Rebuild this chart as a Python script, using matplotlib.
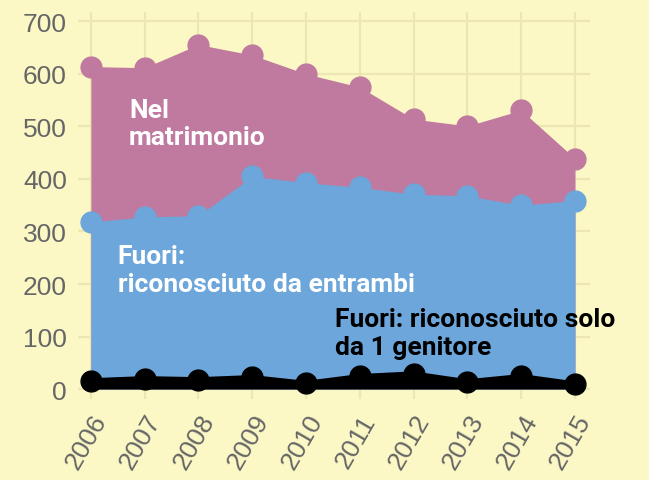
import matplotlib.pyplot as plt
import numpy as np

years = [2006, 2007, 2008, 2009, 2010, 2011, 2012, 2013, 2014, 2015]
nel_matrimonio = [614, 612, 656, 636, 600, 575, 514, 501, 531, 439]
fuori_entrambi = [318, 328, 330, 405, 393, 384, 371, 368, 350, 359]
fuori_uno = [16, 20, 18, 22, 11, 24, 29, 14, 24, 10]

bg = '#FBF8C6'
pink = '#C0799F'
blue = '#6CA6DA'
grid = '#EBE6B2'

fig = plt.figure(figsize=(6.49, 4.81), dpi=100, facecolor=bg)
ax = fig.add_axes([78/649, 1 - 400/481, (590-78)/649, (400-13)/481])
ax.set_facecolor(bg)

ax.fill_between(years, 0, nel_matrimonio, color=pink, lw=0, zorder=2)
ax.plot(years, nel_matrimonio, 'o', color=pink, ms=15, zorder=3, clip_on=False)
ax.fill_between(years, 0, fuori_entrambi, color=blue, lw=0, zorder=4)
ax.plot(years, fuori_entrambi, 'o', color=blue, ms=15, zorder=5, clip_on=False)
ax.fill_between(years, 0, fuori_uno, color='black', lw=0, zorder=6)
ax.plot(years, fuori_uno, '-o', color='black', lw=3.5, ms=15, zorder=7, clip_on=False)

lab = dict(family=['Roboto', 'DejaVu Sans'], weight='bold', fontsize=19,
           va='top', ha='left', linespacing=1.2, zorder=8)
ax.text(2006.71, 555, 'Nel\nmatrimonio', color='white', **lab)
ax.text(2006.5, 276, 'Fuori:\nriconosciuto da entrambi', color='white', **lab)
ax.text(2010.53, 156, 'Fuori: riconosciuto solo\nda 1 genitore', color='black',
        clip_on=False, **lab)

ax.set_xlim(2005.76, 2015.28)
ax.set_ylim(-19, 718)
ax.set_xticks(years)
ax.set_xticklabels([str(y) for y in years], rotation=60, ha='right',
                   rotation_mode='anchor')
ax.set_yticks(range(0, 701, 100))
ax.tick_params(length=0, labelsize=19, labelcolor='#666666', pad=8)
for t in ax.get_xticklabels() + ax.get_yticklabels():
    t.set_family(['Liberation Sans', 'DejaVu Sans'])
ax.grid(True, color=grid, lw=1.6, zorder=0)
ax.set_axisbelow(True)
for s in ax.spines.values():
    s.set_visible(False)

fig.savefig('out.png', dpi=100, facecolor=bg)
